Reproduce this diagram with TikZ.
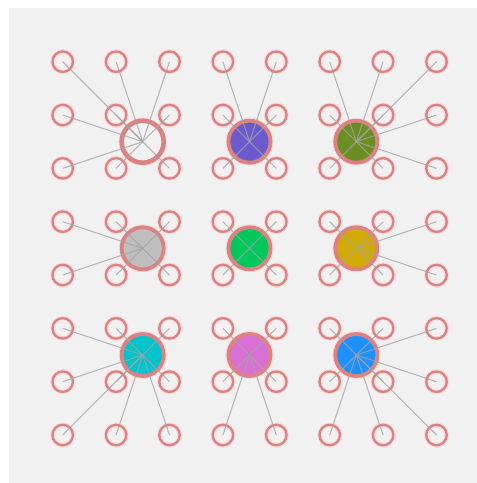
\documentclass[tikz,border=0pt]{standalone}
\definecolor{ring}{HTML}{DC8282}
\definecolor{halo}{HTML}{F6DCDC}
\definecolor{bgc}{HTML}{F1F1F1}
\definecolor{edge}{HTML}{A4A4A4}
\definecolor{cpurple}{HTML}{6A5ACD}
\definecolor{colive}{HTML}{6B8E23}
\definecolor{csilver}{HTML}{BFBFBF}
\definecolor{cgreen}{HTML}{00C85A}
\definecolor{cgold}{HTML}{D2AA06}
\definecolor{cturq}{HTML}{00C4CC}
\definecolor{corchid}{HTML}{DA70D6}
\definecolor{cblue}{HTML}{1E90FF}
\begin{document}
\begin{tikzpicture}[x=1pt,y=-1pt,
  smallc/.style={circle, draw=ring, line width=2.3pt, minimum size=20.5pt, inner sep=0pt,
    preaction={draw=halo, line width=4.5pt}},
  hubc/.style={circle, draw=ring, line width=3.8pt, minimum size=42pt, inner sep=0pt,
    preaction={draw=halo, line width=6pt}},
  link/.style={draw=edge, line width=1.1pt, opacity=0.75}]
\useasboundingbox (0,0) rectangle (477,483);
\fill[bgc] (9,8) rectangle (477,483);
% hubs
\node[hubc, fill=bgc, line width=4.6pt] (hA) at (142.7,141.7) {};
\node[hubc, fill=cpurple] (hB) at (249.5,141.7) {};
\node[hubc, fill=colive] (hC) at (356.3,141.7) {};
\node[hubc, fill=csilver] (hD) at (142.7,248.3) {};
\node[hubc, fill=cgreen] (hE) at (249.5,248.3) {};
\node[hubc, fill=cgold] (hF) at (356.3,248.3) {};
\node[hubc, fill=cturq] (hG) at (142.7,355) {};
\node[hubc, fill=corchid] (hH) at (249.5,355) {};
\node[hubc, fill=cblue] (hI) at (356.3,355) {};
% small circles
\foreach \i in {0,...,7} {
  \foreach \j in {0,...,7} {
    \node[smallc] (s\i\j) at ({62.7+53.4*\i},{61.7+53.33*\j}) {};
  }
}
% links
\foreach \hn/\cl/\rl in {hA/{0,1,2}/{0,1,2}, hB/{3,4}/{0,1,2}, hC/{5,6,7}/{0,1,2},
  hD/{0,1,2}/{3,4}, hE/{3,4}/{3,4}, hF/{5,6,7}/{3,4},
  hG/{0,1,2}/{5,6,7}, hH/{3,4}/{5,6,7}, hI/{5,6,7}/{5,6,7}} {
  \foreach \c in \cl {
    \foreach \r in \rl {
      \draw[link] (\hn.center) -- (s\c\r.center);
    }
  }
}
\end{tikzpicture}
\end{document}
